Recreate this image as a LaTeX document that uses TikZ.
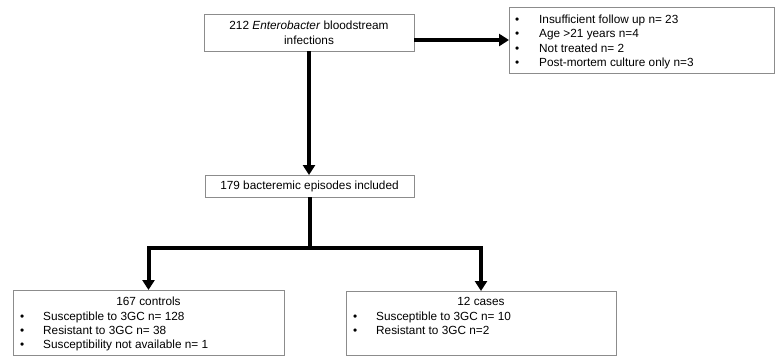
\documentclass[tikz,border=0pt]{standalone}
\usepackage{fontspec}
\setmainfont{Liberation Sans}
\usetikzlibrary{arrows.meta}
\definecolor{boxgray}{RGB}{140,140,140}
\newcommand\fsz{\fontsize{11.8pt}{15pt}\selectfont}
\begin{document}
\begin{tikzpicture}[x=1pt,y=-1pt,
  box/.style={draw=boxgray, line width=0.9pt, fill=white, inner sep=0pt, outer sep=0pt, font=\fsz},
  arr/.style={line width=4pt, line join=miter, -{Triangle[length=10pt,width=12pt]}},
  ln/.style={line width=4pt},
  ttl/.style={inner sep=0pt, anchor=base, font=\fsz},
  bul/.style={inner sep=0pt, anchor=base west, font=\fsz},
  itm/.style={inner sep=0pt, anchor=base west, font=\fsz}]
\useasboundingbox[fill=white] (0,0) rectangle (775,356);

% boxes
\node[box, minimum width=210pt, minimum height=37pt, align=center] (top) at (309,32.5)
  {212 \textit{Enterobacter} bloodstream\\infections};
\node[box, minimum width=209pt, minimum height=22pt] (mid) at (309.5,186)
  {179 bacteremic episodes included};
\node[box, minimum width=265pt, minimum height=66pt] (rb) at (641.5,40) {};
\node[box, minimum width=271pt, minimum height=65pt] (cb) at (148.5,322.5) {};
\node[box, minimum width=270pt, minimum height=64pt] (kb) at (481,323) {};

% exclusions
\node[bul] (rb1) at (515,23) {\textbullet};
\node[itm] (rt1) at (539,23) {Insufficient follow up n= 23};
\node[bul] (rb2) at (515,37.5) {\textbullet};
\node[itm] (rt2) at (539,37.5) {Age >21 years n=4};
\node[bul] (rb3) at (515,52) {\textbullet};
\node[itm] (rt3) at (539,52) {Not treated n= 2};
\node[bul] (rb4) at (515,66) {\textbullet};
\node[itm] (rt4) at (539,66) {Post-mortem culture only n=3};

% controls
\node[ttl] (ct) at (148.5,305.5) {167 controls};
\node[bul] (cb1) at (20,320) {\textbullet};
\node[itm] (ct1) at (43,320) {Susceptible to 3GC n= 128};
\node[bul] (cb2) at (20,334) {\textbullet};
\node[itm] (ct2) at (43,334) {Resistant to 3GC n= 38};
\node[bul] (cb3) at (20,348) {\textbullet};
\node[itm] (ct3) at (43,348) {Susceptibility not available n= 1};

% cases
\node[ttl] (kt) at (481,305.5) {12 cases};
\node[bul] (kb1) at (353,320) {\textbullet};
\node[itm] (kt1) at (376,320) {Susceptible to 3GC n= 10};
\node[bul] (kb2) at (353,334) {\textbullet};
\node[itm] (kt2) at (376,334) {Resistant to 3GC n=2};

% connectors
\draw[arr] (top.east |- rb.west) -- (rb.west);
\draw[arr] (top.south) -- (top.south |- mid.north);
\coordinate (split) at (309.5,248);
\draw[ln] (mid.south) -- (split);
\draw[arr] (split) -| (cb.north);
\draw[arr] (split) -| (kb.north);
\end{tikzpicture}
\end{document}
